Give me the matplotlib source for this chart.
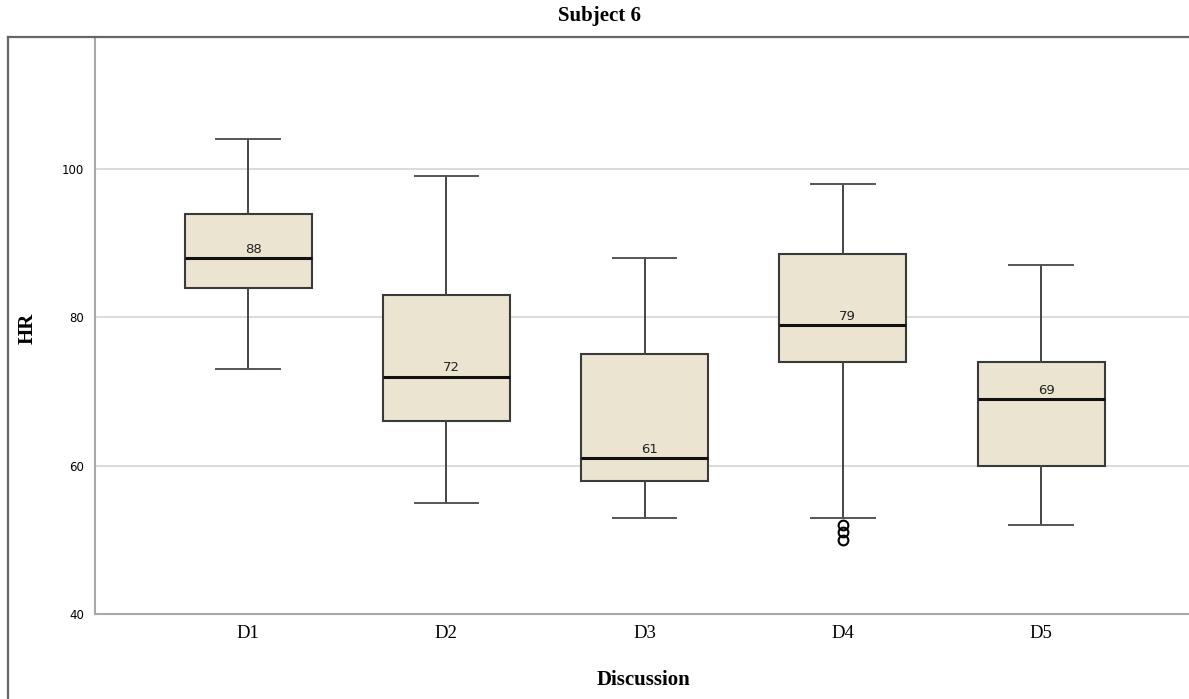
import matplotlib.pyplot as plt
from matplotlib.lines import Line2D

# summary statistics of heart rate per discussion
labels = ['D1', 'D2', 'D3', 'D4', 'D5']
medians = [88, 72, 61, 79, 69]
q1 = [84, 66, 58, 74, 60]
q3 = [94, 83, 75, 88.5, 74]
whislo = [73, 55, 53, 53, 52]
whishi = [104, 99, 88, 98, 87]
outliers = [[], [], [], [52, 51, 50], []]

stats = []
for i in range(len(labels)):
    stats.append({'label': labels[i], 'med': medians[i], 'q1': q1[i], 'q3': q3[i],
                  'whislo': whislo[i], 'whishi': whishi[i], 'fliers': outliers[i]})

fig = plt.figure(figsize=(11.89, 6.99), dpi=100)
ax = fig.add_axes([95 / 1189, 85 / 699, 1 - 95 / 1189, (614 - 37) / 699])

positions = list(range(1, len(labels) + 1))
ax.bxp(stats, positions=positions, widths=0.64, patch_artist=True,
       boxprops=dict(facecolor='#EAE4D0', edgecolor='#3a3a3a', linewidth=1.5),
       medianprops=dict(color='#111111', linewidth=2.2),
       whiskerprops=dict(color='#444444', linewidth=1.4),
       capprops=dict(color='#555555', linewidth=1.4),
       flierprops=dict(marker='o', markersize=7, markerfacecolor='none',
                       markeredgecolor='black', markeredgewidth=1.5))

# median values written above each median line
for pos, m in zip(positions, medians):
    ax.text(pos + 0.025, m + 0.3, str(m), ha='center', va='bottom',
            fontsize=9.5, family='DejaVu Sans', color='#222222')

ax.set_xlim(0.228, 5.746)
ax.set_ylim(40, 117.8)
ax.set_yticks([40, 60, 80, 100])
ax.yaxis.grid(True, color='#d4d4d4', linewidth=1.2)
ax.set_axisbelow(True)
ax.tick_params(axis='y', length=0, labelsize=8.5, pad=8)
ax.tick_params(axis='x', length=0, labelsize=13.5, pad=8)
for t in ax.get_xticklabels():
    t.set_family('Liberation Serif')
for t in ax.get_yticklabels():
    t.set_family('DejaVu Sans')

for side in ['top', 'right']:
    ax.spines[side].set_visible(False)
for side in ['left', 'bottom']:
    ax.spines[side].set_color('#a8a8a8')
    ax.spines[side].set_linewidth(1.5)

# outer frame lines (left and top)
fig.add_artist(Line2D([8 / 1189, 8 / 1189], [0, 1 - 37 / 699], color='#666666', linewidth=1.6))
fig.add_artist(Line2D([8 / 1189, 1], [1 - 37 / 699, 1 - 37 / 699], color='#666666', linewidth=1.6))

fig.text(600 / 1189, 1 - 16 / 699, 'Subject 6', ha='center', va='center',
         fontsize=15, fontweight='bold', family='Liberation Serif')
fig.text(28 / 1189, 1 - 328 / 699, 'HR', ha='center', va='center', rotation=90,
         fontsize=15, fontweight='bold', family='Liberation Serif')
fig.text(644 / 1189, 1 - 680 / 699, 'Discussion', ha='center', va='center',
         fontsize=15, fontweight='bold', family='Liberation Serif')

fig.savefig('out.png', dpi=100)
